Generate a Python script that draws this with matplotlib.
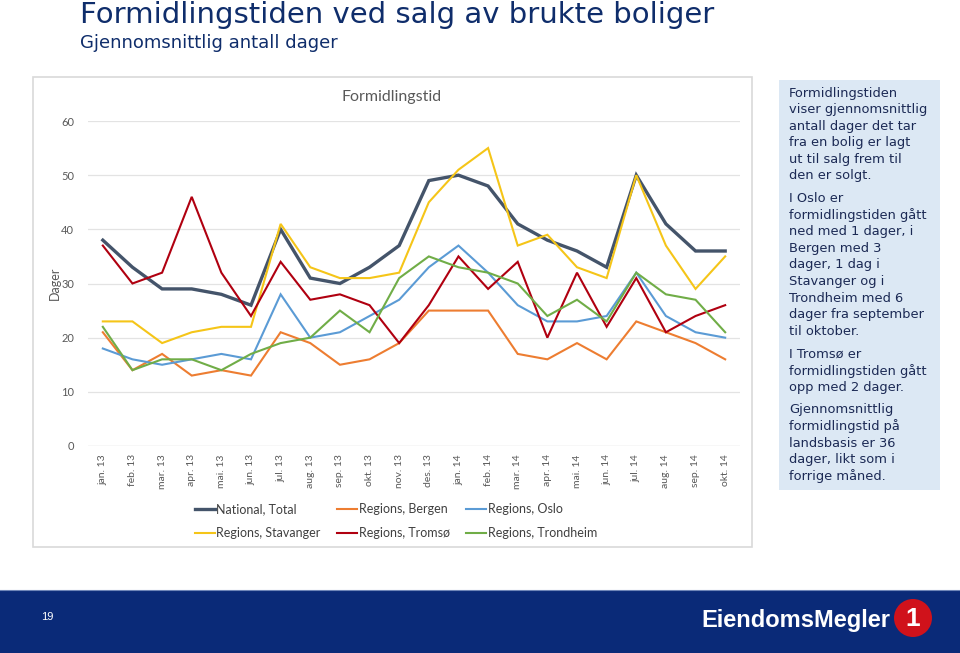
import matplotlib.pyplot as plt
from matplotlib.patches import Rectangle, Ellipse
from matplotlib.lines import Line2D

# Data (days)
months = ["jan. 13", "feb. 13", "mar. 13", "apr. 13", "mai. 13", "jun. 13",
          "jul. 13", "aug. 13", "sep. 13", "okt. 13", "nov. 13", "des. 13",
          "jan. 14", "feb. 14", "mar. 14", "apr. 14", "mai. 14", "jun. 14",
          "jul. 14", "aug. 14", "sep. 14", "okt. 14"]
national = [38, 33, 29, 29, 28, 26, 40, 31, 30, 33, 37, 49, 50, 48, 41, 38, 36, 33, 50, 41, 36, 36]
bergen = [21, 14, 17, 13, 14, 13, 21, 19, 15, 16, 19, 25, 25, 25, 17, 16, 19, 16, 23, 21, 19, 16]
oslo = [18, 16, 15, 16, 17, 16, 28, 20, 21, 24, 27, 33, 37, 32, 26, 23, 23, 24, 32, 24, 21, 20]
stavanger = [23, 23, 19, 21, 22, 22, 41, 33, 31, 31, 32, 45, 51, 55, 37, 39, 33, 31, 50, 37, 29, 35]
tromso = [37, 30, 32, 46, 32, 24, 34, 27, 28, 26, 19, 26, 35, 29, 34, 20, 32, 22, 31, 21, 24, 26]
trondheim = [22, 14, 16, 16, 14, 17, 19, 20, 25, 21, 31, 35, 33, 32, 30, 24, 27, 23, 32, 28, 27, 21]

series = [
    ("National, Total", national, "#44546a", 2.4),
    ("Regions, Bergen", bergen, "#ed7d31", 1.5),
    ("Regions, Oslo", oslo, "#5b9bd5", 1.5),
    ("Regions, Stavanger", stavanger, "#f5c518", 1.5),
    ("Regions, Tromsø", tromso, "#b00010", 1.5),
    ("Regions, Trondheim", trondheim, "#70ad47", 1.5),
]

W, H = 960, 653
fig = plt.figure(figsize=(W / 100, H / 100), dpi=100)


def fx(px):
    return px / W


def fy(py):
    return 1 - py / H


# page titles
navy = "#0f2d6b"
fig.text(fx(80), fy(15), "Formidlingstiden ved salg av brukte boliger", fontsize=21,
         color=navy, family="DejaVu Sans", va="center", ha="left")
fig.text(fx(80), fy(43), "Gjennomsnittlig antall dager", fontsize=13,
         color=navy, family="DejaVu Sans", va="center", ha="left")

# chart panel
fig.patches.append(Rectangle((fx(33), fy(547)), fx(752 - 33), (547 - 77) / H,
                             transform=fig.transFigure, facecolor="white",
                             edgecolor="#d9d9d9", linewidth=1.2, zorder=0))

ax = fig.add_axes([fx(88), fy(446), fx(740 - 88), (446 - 121) / H])
ax.set_zorder(2)
ax.set_facecolor("none")
x = list(range(len(months)))
for name, vals, col, lw in series:
    ax.plot(x, vals, color=col, linewidth=lw, label=name, solid_joinstyle="miter")

ax.set_xlim(-0.5, len(months) - 0.5)
ax.set_ylim(0, 60)
ax.set_yticks(range(0, 61, 10))
ax.set_xticks(x)
ax.set_xticklabels(months, rotation=90, fontsize=7.5, color="#595959", family="Lato")
ax.tick_params(axis="y", length=0, labelsize=8, labelcolor="#595959", pad=10)
ax.tick_params(axis="x", length=0, pad=6)
for lab in ax.get_yticklabels():
    lab.set_family("Lato")
ax.grid(axis="y", color="#e3e3e3", linewidth=0.9)
ax.set_axisbelow(True)
for s in ax.spines.values():
    s.set_visible(False)
ax.axhline(0, color="#d9d9d9", linewidth=0.9, zorder=0)

fig.text(fx(392), fy(97), "Formidlingstid", fontsize=11.5, color="#595959",
         family="Lato", ha="center", va="center")
fig.text(fx(55), fy(283), "Dager", fontsize=9, color="#595959", family="Lato",
         rotation=90, ha="center", va="center")

# legend (row-wise order as in the original, matplotlib fills column-wise)
handles = [Line2D([0], [0], color=c, linewidth=lw) for _, _, c, lw in series]
labels = [n for n, _, _, _ in series]
order = [0, 3, 1, 4, 2, 5]
leg = fig.legend([handles[i] for i in order], [labels[i] for i in order],
                 loc="center", bbox_to_anchor=(fx(396), fy(521)),
                 ncol=3, frameon=False, handlelength=1.6,
                 handletextpad=0.15, columnspacing=1.3,
                 prop={"family": "Lato", "size": 9}, labelspacing=0.95)
for t in leg.get_texts():
    t.set_color("#404040")

# right-hand text box
fig.patches.append(Rectangle((fx(779), fy(490)), fx(940 - 779), (490 - 80) / H,
                             transform=fig.transFigure, facecolor="#dce8f4",
                             edgecolor="none", zorder=0))
paragraphs = [
    ["Formidlingstiden", "viser gjennomsnittlig", "antall dager det tar",
     "fra en bolig er lagt", "ut til salg frem til", "den er solgt."],
    ["I Oslo er", "formidlingstiden gått", "ned med 1 dager, i", "Bergen med 3",
     "dager, 1 dag i", "Stavanger og i", "Trondheim med 6", "dager fra september",
     "til oktober."],
    ["I Tromsø er", "formidlingstiden gått", "opp med 2 dager."],
    ["Gjennomsnittlig", "formidlingstid på", "landsbasis er 36",
     "dager, likt som i", "forrige måned."],
]
ypos = 93
for para in paragraphs:
    for line in para:
        fig.text(fx(789), fy(ypos), line, fontsize=9.4, color="#1c2a55",
                 family="DejaVu Sans", ha="left", va="center")
        ypos += 16.6
    ypos += 6

# footer band
fig.patches.append(Rectangle((0, 0), 1, fy(590), transform=fig.transFigure,
                             facecolor="#0a2a78", edgecolor="none", zorder=0))
fig.lines.append(Line2D([0, 1], [fy(590), fy(590)], transform=fig.transFigure,
                        color="#6f86b8", linewidth=0.8))
fig.text(fx(47), fy(617), "19", fontsize=8, color="white",
         family="Liberation Sans", ha="center", va="center")
fig.text(fx(890), fy(621), "EiendomsMegler", fontsize=17, color="white",
         family="Liberation Sans", weight="bold", ha="right", va="center")
fig.patches.append(Ellipse((fx(913), fy(618)), 38 / W, 38 / H, transform=fig.transFigure,
                           facecolor="#d0121b", edgecolor="none"))
fig.text(fx(913), fy(619), "1", fontsize=19, color="white", weight="bold",
         family="Liberation Sans", ha="center", va="center")

fig.savefig("out.png", dpi=100)
